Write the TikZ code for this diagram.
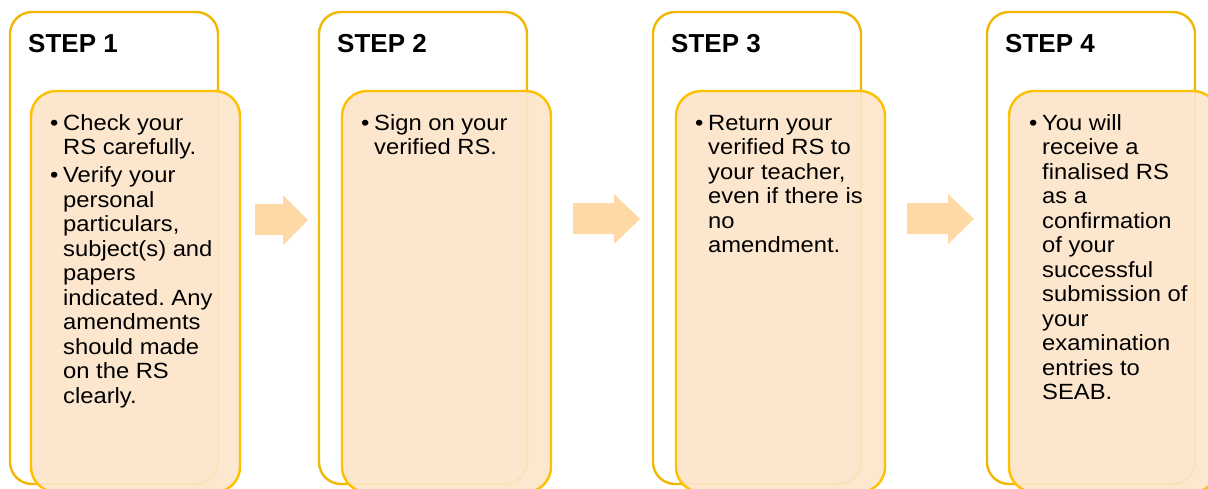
\documentclass[tikz,border=0pt]{standalone}
\usepackage{fontspec}
\setmainfont{Liberation Sans}
\newfontfamily\bodyfont{Liberation Sans}[FakeStretch=1.08]
\frenchspacing
\definecolor{outerline}{RGB}{242,183,5}
\definecolor{innerline}{RGB}{255,192,0}
\definecolor{innerfill}{RGB}{252,230,202}
\definecolor{arrowfill}{RGB}{254,217,166}
\tikzset{
  outerbox/.style={draw=outerline, line width=2.4pt, rounded corners=22pt, fill=white},
  innerbox/.style={draw=innerline, line width=2.4pt, rounded corners=25pt, fill=innerfill, fill opacity=0.92},
  steplabel/.style={anchor=base west, inner sep=0pt, font={\fontsize{26}{30}\selectfont\bfseries}},
  itemtext/.style={anchor=base west, inner sep=0pt, font={\bodyfont\fontsize{22}{24.5}\selectfont}},
  bulletmark/.style={anchor=base west, inner sep=0pt, font={\bodyfont\fontsize{22}{24.5}\selectfont}},
  flowarrow/.style={fill=arrowfill, draw=none}
}
\newcommand{\itemlines}[1]{\parbox[t]{200pt}{\raggedright\frenchspacing #1}}
\begin{document}
\begin{tikzpicture}[x=1pt,y=-1pt]
\useasboundingbox (0,0) rectangle (1208,488);
% outer boxes
\draw[outerbox] (10,12) rectangle (218,484);
\draw[outerbox] (319,12) rectangle (527,484);
\draw[outerbox] (653,12) rectangle (861,484);
\draw[outerbox] (987,12) rectangle (1195,484);
% step labels
\node[steplabel] (s1) at (28,52) {STEP 1};
\node[steplabel] (s2) at (337,52) {STEP 2};
\node[steplabel] (s3) at (671,52) {STEP 3};
\node[steplabel] (s4) at (1005,52) {STEP 4};
% inner boxes
\draw[innerbox] (31,91) rectangle (240,492);
\draw[innerbox] (342,91) rectangle (551,492);
\draw[innerbox] (676,91) rectangle (885,492);
\draw[innerbox] (1009,91) rectangle (1218,492);
% arrows
\fill[flowarrow] (255,204) -- (283,204) -- (283,195) -- (308,220) -- (283,245) -- (283,235) -- (255,235) -- cycle;
\fill[flowarrow] (573,203) -- (614,203) -- (614,194) -- (640,219) -- (614,244) -- (614,234) -- (573,234) -- cycle;
\fill[flowarrow] (907,203) -- (948,203) -- (948,194) -- (974,219) -- (948,244) -- (948,234) -- (907,234) -- cycle;
% box 1 text
\node[bulletmark] (b1a) at (50,130) {•};
\node[itemtext] (t1a) at (63,130) {\itemlines{Check your\\RS carefully.}};
\node[bulletmark] (b1b) at (50,182.5) {•};
\node[itemtext] (t1b) at (63,182.5) {\itemlines{Verify your\\personal\\particulars,\\subject(s) and\\papers\\indicated. Any\\amendments\\should made\\on the RS\\clearly.}};
% box 2 text
\node[bulletmark] (b2) at (361,130) {•};
\node[itemtext] (t2) at (374,130) {\itemlines{Sign on your\\verified RS.}};
% box 3 text
\node[bulletmark] (b3) at (695,130) {•};
\node[itemtext] (t3) at (708,130) {\itemlines{Return your\\verified RS to\\your teacher,\\even if there is\\no\\amendment.}};
% box 4 text
\node[bulletmark] (b4) at (1029,130) {•};
\node[itemtext] (t4) at (1042,130) {\itemlines{You will\\receive a\\finalised RS\\as a\\confirmation\\of your\\successful\\submission of\\your\\examination\\entries to\\SEAB.}};
\end{tikzpicture}
\end{document}
